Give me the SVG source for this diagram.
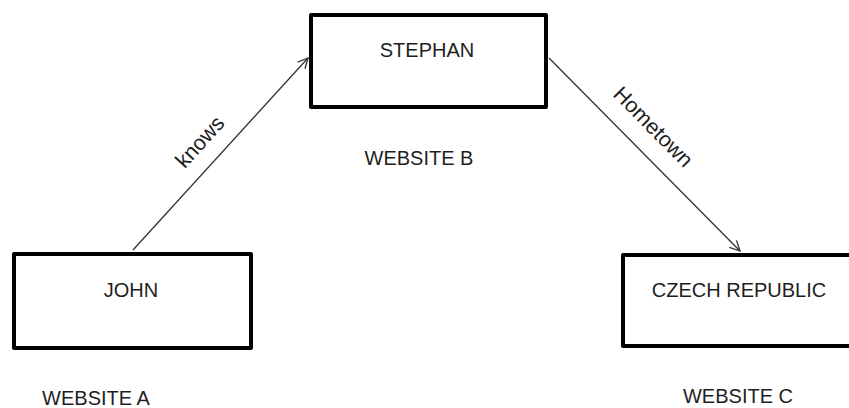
<svg xmlns="http://www.w3.org/2000/svg" width="849" height="408" viewBox="0 0 849 408">
  <style>
    .box { fill: #fff; stroke: #000; stroke-width: 4; stroke-linejoin: round; }
    .lbl { font-family: "Liberation Sans", Arial, sans-serif; font-size: 20px; fill: #1e1e1e; text-anchor: middle; }
    .elbl { font-size: 21.5px; }
    .edge { stroke: #333; stroke-width: 1.3; fill: none; }
  </style>
  <defs>
    <marker id="arr" viewBox="0 0 12 12" refX="11" refY="6" markerWidth="12" markerHeight="12" markerUnits="userSpaceOnUse" orient="auto">
      <path d="M1,1 L11,6 L1,11" fill="none" stroke="#333" stroke-width="1.3"/>
    </marker>
  </defs>
  <rect width="849" height="408" fill="#fff"/>
  <g id="connectors">
    <line class="edge" x1="133" y1="250" x2="308" y2="58" marker-end="url(#arr)"/>
    <line class="edge" x1="549" y1="58" x2="740" y2="251" marker-end="url(#arr)"/>
    <text class="lbl elbl" transform="translate(200,142) rotate(-47.7)" y="7">knows</text>
    <text class="lbl elbl" transform="translate(653,127) rotate(45.5)" y="7">Hometown</text>
  </g>
  <g id="john">
    <rect class="box" x="14" y="254" width="237" height="94"/>
    <text class="lbl" x="131" y="297">JOHN</text>
  </g>
  <g id="stephan">
    <rect class="box" x="311" y="15" width="235" height="92"/>
    <text class="lbl" x="427" y="57">STEPHAN</text>
  </g>
  <g id="czech">
    <rect class="box" x="623" y="255" width="240" height="91"/>
    <text class="lbl" x="739" y="297">CZECH REPUBLIC</text>
  </g>
  <g id="website-a">
    <text class="lbl" x="96" y="405">WEBSITE A</text>
  </g>
  <g id="website-b">
    <text class="lbl" x="419" y="165">WEBSITE B</text>
  </g>
  <g id="website-c">
    <text class="lbl" x="738" y="403">WEBSITE C</text>
  </g>
</svg>
